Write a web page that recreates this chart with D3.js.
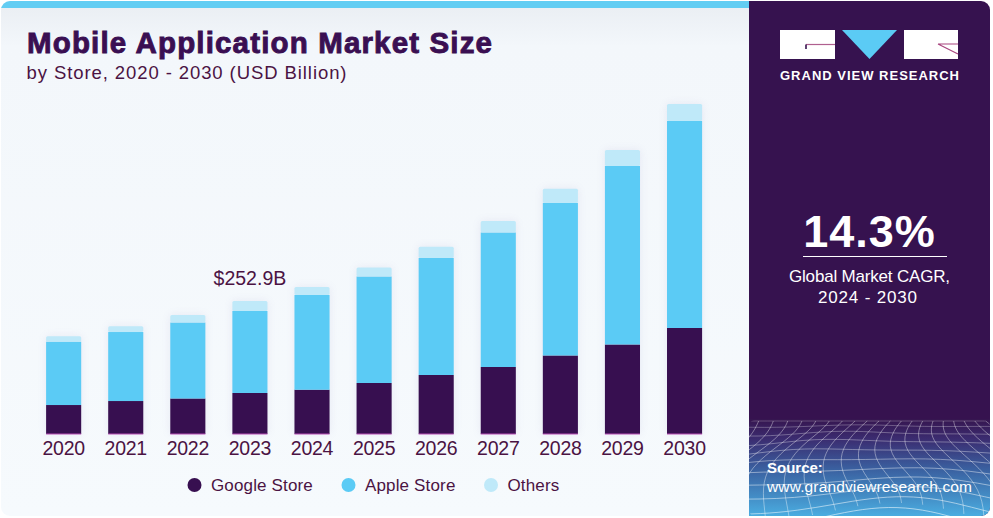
<!DOCTYPE html>
<html>
<head>
<meta charset="utf-8">
<script src="https://cdn.jsdelivr.net/npm/d3@7"></script>
<style>
html,body{margin:0;padding:0;background:#fff;}
svg{display:block;}
text{font-family:"Liberation Sans",Arial,sans-serif;}
</style>
</head>
<body>
<svg id="chart" width="993" height="518"></svg>
<script>
// values in USD billion
const years = ["2020","2021","2022","2023","2024","2025","2026","2027","2028","2029","2030"];
const googleStore = [55.1,62.7,67.5,78,84.2,97,112.2,127.4,149.3,170.2,201.6];
const appleStore = [120.4,131.2,144.5,155.9,180.1,202.5,222.5,255.8,290,339.4,393.6];
const others = [10.3,10.8,14.3,19,15.2,17.1,21.5,21.9,27.2,30.4,32.3];
const seriesNames = ["Google Store","Apple Store","Others"];
const seriesColors = ["#370f50","#5bcbf5","#bfe9f9"];
const calloutYear = "2023";
const calloutLabel = "$252.9B";
const textColor = "#4b1343";

const svg = d3.select("#chart");
const defs = svg.append("defs");

const panelGrad = defs.append("linearGradient").attr("id","panelGrad").attr("x1",0).attr("x2",0).attr("y1",0).attr("y2",1);
panelGrad.append("stop").attr("offset","0%").attr("stop-color","#e9edf2");
panelGrad.append("stop").attr("offset","9%").attr("stop-color","#f3f7fb");
panelGrad.append("stop").attr("offset","100%").attr("stop-color","#f6fafd");

const footGrad = defs.append("linearGradient").attr("id","footGrad").attr("x1",0).attr("x2",0).attr("y1",0).attr("y2",1);
footGrad.append("stop").attr("offset","0%").attr("stop-color","#36154f");
footGrad.append("stop").attr("offset","20%").attr("stop-color","#3b2c70");
footGrad.append("stop").attr("offset","50%").attr("stop-color","#3a5f9f");
footGrad.append("stop").attr("offset","100%").attr("stop-color","#4bb0e3");

const barShadow = defs.append("filter").attr("id","barShadow").attr("x","-30%").attr("y","-10%").attr("width","160%").attr("height","120%");
barShadow.append("feGaussianBlur").attr("stdDeviation",4);

defs.append("clipPath").attr("id","cardClip").append("rect")
  .attr("x",1).attr("y",1).attr("width",989).attr("height",515).attr("rx",9);
defs.append("clipPath").attr("id","footClip").append("rect")
  .attr("x",749).attr("y",420).attr("width",241).attr("height",96).attr("rx",6);

// card background
const card = svg.append("g").attr("clip-path","url(#cardClip)");
card.append("rect").attr("x",0).attr("y",0).attr("width",749).attr("height",518).attr("fill","url(#panelGrad)");
card.append("rect").attr("x",0).attr("y",0).attr("width",749).attr("height",8).attr("fill","#62cdf3");
card.append("rect").attr("x",749).attr("y",0).attr("width",244).attr("height",518).attr("fill","#36124f");
card.append("rect").attr("x",749).attr("y",419).attr("width",244).attr("height",99).attr("fill","url(#footGrad)");

// wire mesh in the footer
const mesh = svg.append("g").attr("clip-path","url(#footClip)")
  .attr("fill","none").attr("stroke","#fff").attr("stroke-width",0.8);
const warp = (u,v) => {
  const y = 421 + 100*Math.pow(v,1.3) + 9*v*Math.sin(u*7+1.2) + 5*Math.sin(u*11+v*5)*v;
  const x = 869 + (u-0.5)*(250+190*v) + 11*Math.sin(v*6+u*4);
  return [x,y];
};
const meshLine = d3.line().curve(d3.curveBasis);
d3.range(0,1.001,1/10).forEach(v => {
  mesh.append("path").attr("opacity",0.3+0.4*v)
    .attr("d",meshLine(d3.range(0,1.001,0.04).map(u => warp(u,v))));
});
d3.range(0,1.001,1/20).forEach(u => {
  mesh.append("path").attr("opacity",0.5)
    .attr("d",meshLine(d3.range(0,1.001,0.08).map(v => warp(u,v))));
});

// title
svg.append("text").attr("x",27).attr("y",53).attr("font-size",29.5).attr("font-weight",700)
  .attr("fill","#3a0f52").attr("stroke","#3a0f52").attr("stroke-width",0.9)
  .attr("textLength",465).attr("lengthAdjust","spacing").text("Mobile Application Market Size");
svg.append("text").attr("x",26.5).attr("y",79).attr("font-size",18.5).attr("fill",textColor)
  .attr("textLength",320).attr("lengthAdjust","spacing").text("by Store, 2020 - 2030 (USD Billion)");

// bars
const x = d3.scaleBand().domain(years).range([32.6,715.6]).paddingInner(0.435).paddingOuter(0.2175);
const totals = years.map((d,i) => googleStore[i]+appleStore[i]+others[i]);
const y = d3.scaleLinear().domain([0,252.9]).range([434,301]);

const rows = years.map((year,i) => ({year, google:googleStore[i], apple:appleStore[i], others:others[i]}));
const stack = d3.stack().keys(["google","apple","others"])(rows);

// soft halo behind each bar
svg.append("g").attr("filter","url(#barShadow)").attr("opacity",0.12)
  .selectAll("rect").data(years).enter().append("rect")
  .attr("x",d => x(d)).attr("y",(d,i) => y(totals[i]))
  .attr("width",x.bandwidth()).attr("height",(d,i) => y(0)-y(totals[i]))
  .attr("fill","#7a6fb0");

const plot = svg.append("g");
plot.selectAll("g.series").data(stack).enter().append("g").attr("class","series")
  .attr("fill",(d,i) => seriesColors[i])
  .selectAll("rect").data(d => d).enter().append("rect")
  .attr("x",d => x(d.data.year))
  .attr("y",d => y(d[1]))
  .attr("width",x.bandwidth())
  .attr("height",d => y(d[0])-y(d[1]))
  .attr("rx",(d,i,n) => n[i].parentNode.__data__.key==="others" ? 1.5 : 0);

// thin pink foot under each bar
plot.append("g").selectAll("line").data(years).enter().append("line")
  .attr("x1",d => x(d)).attr("x2",d => x(d)+x.bandwidth())
  .attr("y1",y(0)).attr("y2",y(0)).attr("stroke","#b84fb4").attr("stroke-width",1);

// x axis
const axis = svg.append("g").attr("transform","translate(0,434)")
  .call(d3.axisBottom(x).tickSize(0).tickPadding(7));
axis.select(".domain").remove();
axis.selectAll("text").attr("font-size",19.5).attr("letter-spacing",-0.25).attr("fill",textColor)
  .style("font-family",'"Liberation Sans",Arial,sans-serif');

// callout
svg.append("text").attr("x",x(calloutYear)+x.bandwidth()/2).attr("y",y(totals[years.indexOf(calloutYear)])-16)
  .attr("text-anchor","middle").attr("font-size",19.5).attr("fill",textColor).text(calloutLabel);

// legend
const legendDotX = [194.5,348.5,491];
const legend = svg.selectAll("g.legend").data(seriesNames).enter().append("g").attr("class","legend")
  .attr("transform",(d,i) => `translate(${legendDotX[i]},485)`);
legend.append("circle").attr("r",7).attr("fill",(d,i) => seriesColors[i]);
legend.append("text").attr("x",16.5).attr("y",6).attr("font-size",17).attr("letter-spacing",0.15)
  .attr("fill",textColor).text(d => d);

// logo
const logo = svg.append("g");
logo.append("rect").attr("x",780).attr("y",30).attr("width",55).attr("height",29).attr("fill","#fff");
logo.append("rect").attr("x",904).attr("y",30).attr("width",54).attr("height",29).attr("fill","#fff");
logo.append("path").attr("d","M842,30H897L869.5,59Z").attr("fill","#5bcbf5");
logo.append("path").attr("d","M806,44.5H835").attr("stroke","#b0608f").attr("stroke-width",1.2).attr("fill","none");
logo.append("path").attr("d","M806,44.5V49").attr("stroke","#36124f").attr("stroke-width",1.6).attr("fill","none");
logo.append("path").attr("d","M938,44H958M938,44L958,54").attr("stroke","#a8447e").attr("stroke-width",1.2).attr("fill","none");
svg.append("text").attr("x",869.5).attr("y",80).attr("text-anchor","middle").attr("font-size",13).attr("font-weight",700)
  .attr("fill","#fff").attr("textLength",179).attr("lengthAdjust","spacing").text("GRAND VIEW RESEARCH");

// CAGR block
svg.append("text").attr("x",869.5).attr("y",247).attr("text-anchor","middle").attr("font-size",45).attr("font-weight",700)
  .attr("fill","#fff").attr("letter-spacing",1).text("14.3%");
svg.append("line").attr("x1",803).attr("x2",947).attr("y1",256.5).attr("y2",256.5).attr("stroke","#fff").attr("stroke-width",1.2);
svg.append("text").attr("x",869.5).attr("y",282).attr("text-anchor","middle").attr("font-size",17).attr("fill","#fff")
  .attr("textLength",161).attr("lengthAdjust","spacing").text("Global Market CAGR,");
svg.append("text").attr("x",867.5).attr("y",303).attr("text-anchor","middle").attr("font-size",17).attr("fill","#fff")
  .attr("textLength",99).attr("lengthAdjust","spacing").text("2024 - 2030");

// source
svg.append("text").attr("x",767).attr("y",473).attr("font-size",15).attr("font-weight",700).attr("fill","#fff").text("Source:");
svg.append("text").attr("x",767).attr("y",492).attr("font-size",15.5).attr("fill","#fff")
  .attr("textLength",205).attr("lengthAdjust","spacing").text("www.grandviewresearch.com");
</script>
</body>
</html>
